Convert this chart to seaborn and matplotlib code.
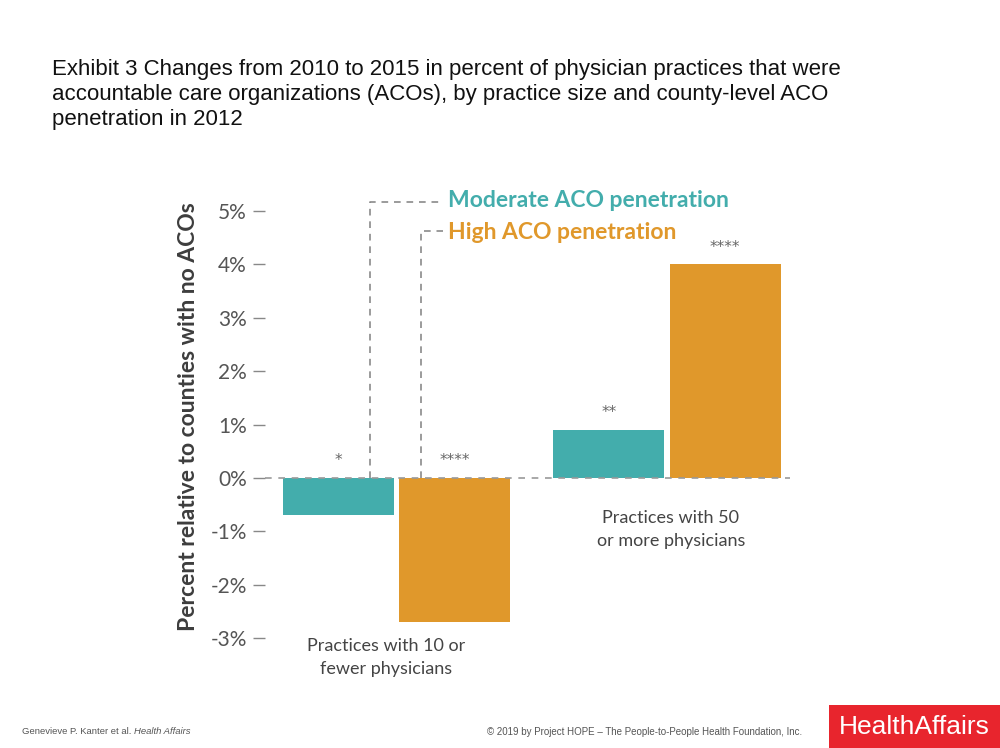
import matplotlib
matplotlib.use("Agg")
import matplotlib.pyplot as plt
import seaborn as sns
import pandas as pd
from matplotlib.patches import Rectangle

# ---- data ----
sizes = ["Practices with 10 or\nfewer physicians", "Practices with 50\nor more physicians"]
penetration = ["Moderate ACO penetration", "High ACO penetration"]
moderate_vals = [-0.7, 0.9]
high_vals = [-2.7, 4.0]
moderate_sig = ["*", "**"]
high_sig = ["****", "****"]
yticks = [-3, -2, -1, 0, 1, 2, 3, 4, 5]
ytick_labels = ["-3%", "-2%", "-1%", "0%", "1%", "2%", "3%", "4%", "5%"]

teal = "#43ADAC"
orange = "#E0982B"

df = pd.DataFrame({
    "size": sizes * 2,
    "pen": [penetration[0]] * 2 + [penetration[1]] * 2,
    "val": moderate_vals + high_vals,
})

sns.set_style("white")
plt.rcParams["font.family"] = ["Lato", "DejaVu Sans"]

fig = plt.figure(figsize=(10, 7.48), dpi=100)
ax = fig.add_axes([0.265, 0.147, 0.525, 0.5923])

sns.barplot(data=df, x="size", y="val", hue="pen", order=sizes, hue_order=penetration,
            palette=[teal, orange], saturation=1, width=0.86, gap=0.045, legend=False,
            ax=ax, linewidth=0, errorbar=None)

ax.set_xlim(-0.486, 1.455)
ax.set_ylim(-3.0, 5.3)
for s in ax.spines.values():
    s.set_visible(False)
ax.set_xticks([])
ax.set_xlabel("")
ax.set_yticks(yticks)
ax.set_yticklabels(ytick_labels, fontsize=15, color="#555555")
ax.tick_params(axis="y", length=9, width=1.0, color="#888888", pad=4, left=True)
ax.set_ylabel("Percent relative to counties with no ACOs", fontsize=16.5,
              fontweight="bold", color="#3d3d3d", labelpad=8)

# zero line
ax.axhline(0, xmin=0.0, color="#999999", lw=1.2, ls=(0, (4, 4)), zorder=5, clip_on=False)

# significance stars
offs = 0.215
for i in range(len(sizes)):
    for sig, vals, dx in [(moderate_sig, moderate_vals, -offs), (high_sig, high_vals, offs)]:
        ax.text(i + dx, max(vals[i], 0) + 0.32, sig[i], ha="center", va="center",
                fontsize=11, color="#666666", family=["DejaVu Sans"])

# category labels
ax.text(-0.04, -3.0, sizes[0], ha="center", va="top", fontsize=13, color="#444444",
        linespacing=1.55, clip_on=False)
ax.text(1.015, -0.6, sizes[1], ha="center", va="top", fontsize=13, color="#444444",
        linespacing=1.55)

# legend with dashed leaders
leader = dict(color="#8a8a8a", lw=1.2, ls=(0, (4, 3.5)), clip_on=False)
ax.plot([-0.098, -0.098, 0.173], [0, 5.17, 5.17], **leader)
ax.plot([0.09, 0.09, 0.173], [0, 4.63, 4.63], **leader)
ax.text(0.19, 5.19, penetration[0], color=teal, fontsize=16.5, fontweight="bold",
        va="center", ha="left", clip_on=False)
ax.text(0.19, 4.60, penetration[1], color=orange, fontsize=16.5, fontweight="bold",
        va="center", ha="left", clip_on=False)

# title
fig.text(0.052, 0.921,
         "Exhibit 3 Changes from 2010 to 2015 in percent of physician practices that were\n"
         "accountable care organizations (ACOs), by practice size and county-level ACO\n"
         "penetration in 2012",
         ha="left", va="top", fontsize=16, family=["Liberation Sans", "DejaVu Sans"],
         color="#111111", linespacing=1.26)

# footer
t1 = fig.text(0.022, 0.022, "Genevieve P. Kanter et al.", fontsize=6.8, color="#555555",
              family=["Liberation Sans"], va="center")
fig.canvas.draw()
bb = t1.get_window_extent(renderer=fig.canvas.get_renderer())
fig.text(bb.x1 / fig.bbox.width + 0.003, 0.022, "Health Affairs", fontsize=6.8, color="#555555",
         style="italic", family=["Liberation Sans"], va="center")
fig.text(0.487, 0.022, "\u00a9 2019 by Project HOPE \u2013 The People-to-People Health Foundation, Inc.",
         fontsize=7, color="#555555", family=["Liberation Sans"], va="center")
fig.patches.append(Rectangle((0.829, 0.0), 0.171, 0.057, transform=fig.transFigure,
                             facecolor="#E8252D", edgecolor="none"))
fig.text(0.914, 0.028, "HealthAffairs", fontsize=19, color="white",
         family=["Liberation Sans Narrow", "Liberation Sans"], ha="center", va="center")

fig.savefig("out.png", dpi=100, facecolor="white")
